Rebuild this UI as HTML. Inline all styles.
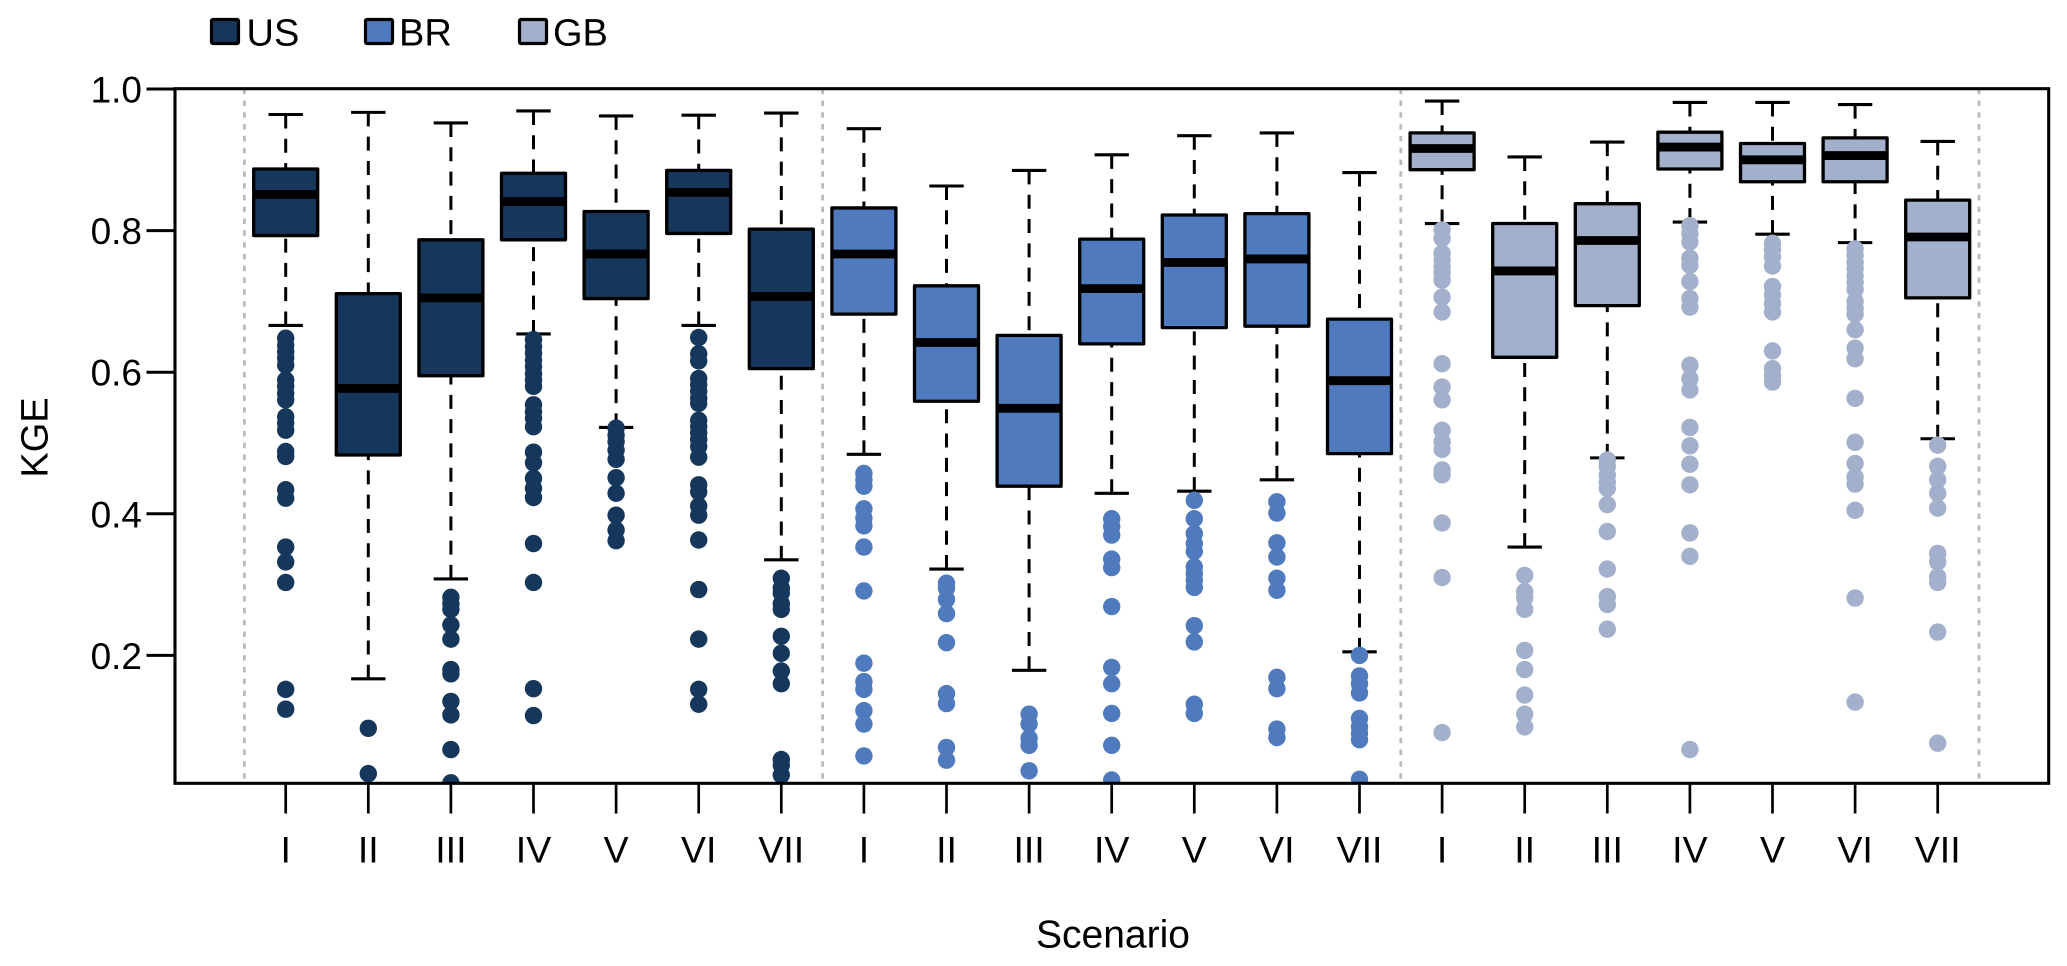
<!DOCTYPE html>
<html lang="en">
<head>
<meta charset="utf-8">
<title>KGE by scenario and country</title>
<style>
html,body{margin:0;padding:0;background:#fff;width:2067px;height:966px;overflow:hidden}
svg{display:block}
text{font-family:"Liberation Sans",Arial,sans-serif;fill:#000}
</style>
</head>
<body>
<svg id="chart" xmlns="http://www.w3.org/2000/svg" width="2067" height="966" viewBox="0 0 2067 966">
  <defs>
    <clipPath id="plot-clip"><rect x="175" y="88.5" width="1873.7" height="694.8"/></clipPath>
  </defs>
  <g>
    <g>
      <rect x="211.5" y="19.5" width="27" height="24" rx="1.5" fill="#15375b" stroke="#000" stroke-width="3.2"/>
      <text x="246.5" y="45.5" font-size="38">US</text>
    </g>
    <g>
      <rect x="365.5" y="19.5" width="27" height="24" rx="1.5" fill="#4f7abd" stroke="#000" stroke-width="3.2"/>
      <text x="399" y="45.5" font-size="38">BR</text>
    </g>
    <g>
      <rect x="519.5" y="19.5" width="27" height="24" rx="1.5" fill="#a2b0cb" stroke="#000" stroke-width="3.2"/>
      <text x="553" y="45.5" font-size="38">GB</text>
    </g>
  </g>
  <text transform="translate(47.5,437.5) rotate(-90)" text-anchor="middle" font-size="38">KGE</text>
  <text x="1113" y="947.5" text-anchor="middle" font-size="39">Scenario</text>
  <g id="layer-separators"></g>
  <g id="layer-boxes"></g>
  <g id="layer-axes"></g>
</svg>
<script>
const scenarios = ['I','II','III','IV','V','VI','VII'];
const yTicks = [0.2,0.4,0.6,0.8,1.0];

const usHigh = [.964,.967,.952,.969,.962,.963,.966];
const usQ3 = [.887,.711,.787,.881,.827,.885,.802];
const usMedian = [.851,.577,.705,.841,.767,.854,.707];
const usQ1 = [.793,.483,.595,.787,.704,.796,.605];
const usLow = [.666,.167,.308,.654,.522,.666,.335];
const usOutliers = [
  [.648,.638,.629,.620,.610,.589,.580,.570,.561,.537,.528,.518,.488,.481,.434,.422,.353,.332,.303,.152,.124],
  [.097,.033],
  [.282,.273,.265,.243,.223,.180,.174,.135,.116,.067,.020],
  [.646,.636,.627,.617,.608,.598,.589,.580,.554,.544,.535,.523,.487,.472,.450,.436,.423,.358,.303,.153,.115],
  [.521,.511,.502,.490,.477,.451,.429,.398,.377,.362],
  [.649,.626,.616,.591,.582,.573,.563,.556,.532,.523,.514,.505,.495,.480,.441,.431,.411,.398,.363,.293,.223,.152,.131],
  [.309,.295,.288,.273,.265,.227,.203,.178,.160,.053,.045,.031]
];

const brHigh = [.944,.863,.885,.907,.934,.938,.882];
const brQ3 = [.832,.722,.652,.788,.822,.824,.675];
const brMedian = [.767,.642,.549,.718,.755,.760,.588];
const brQ1 = [.682,.559,.439,.640,.663,.665,.485];
const brLow = [.484,.322,.179,.429,.432,.448,.205];
const brOutliers = [
  [.457,.448,.439,.407,.394,.383,.353,.291,.189,.163,.152,.122,.103,.058],
  [.302,.295,.279,.259,.218,.146,.132,.070,.052],
  [.117,.103,.083,.073,.037],
  [.393,.382,.370,.336,.324,.269,.183,.160,.118,.073,.024],
  [.419,.393,.372,.358,.347,.325,.315,.306,.296,.242,.219,.131,.118],
  [.417,.401,.359,.339,.309,.292,.169,.153,.096,.084],
  [.200,.171,.160,.147,.111,.099,.090,.081,.025]
];

const gbHigh = [.983,.904,.925,.981,.981,.978,.926];
const gbQ3 = [.938,.810,.838,.939,.923,.931,.843];
const gbMedian = [.916,.743,.786,.918,.900,.906,.791];
const gbQ1 = [.886,.621,.694,.887,.869,.869,.705];
const gbLow = [.810,.353,.479,.812,.795,.783,.506];
const gbOutliers = [
  [.801,.789,.768,.758,.749,.740,.730,.706,.685,.612,.579,.561,.518,.502,.491,.462,.455,.387,.310,.091],
  [.313,.290,.281,.265,.207,.180,.144,.117,.099],
  [.476,.467,.455,.445,.436,.413,.375,.322,.283,.272,.237],
  [.807,.796,.784,.761,.751,.728,.704,.692,.610,.591,.575,.522,.496,.470,.441,.373,.340,.067],
  [.782,.773,.763,.750,.721,.709,.697,.685,.630,.605,.595,.586],
  [.774,.765,.755,.746,.736,.727,.717,.700,.690,.682,.660,.634,.619,.563,.501,.471,.452,.442,.405,.281,.134],
  [.497,.467,.448,.429,.408,.344,.332,.311,.303,.233,.076]
];

const countries = ['us','br','gb'];
const highs = [usHigh,brHigh,gbHigh];
const q3s = [usQ3,brQ3,gbQ3];
const medians = [usMedian,brMedian,gbMedian];
const q1s = [usQ1,brQ1,gbQ1];
const lows = [usLow,brLow,gbLow];
const outliers = [usOutliers,brOutliers,gbOutliers];
const fills = ['#15375b','#4f7abd','#a2b0cb'];

const plot = {left:175,right:2048.7,top:88.7,bottom:783.3};
const SLOT = 82.6, FIRST = 285.7;
function xScale(slot){ return FIRST + SLOT*slot; }
function yScale(v){ return 89 + (1-v)*708; }

const NS = 'http://www.w3.org/2000/svg';
function make(tag, attrs, parent){
  const el = document.createElementNS(NS, tag);
  for (const k in attrs) el.setAttribute(k, attrs[k]);
  parent.appendChild(el);
  return el;
}

const sepLayer = document.getElementById('layer-separators');
const boxLayer = document.getElementById('layer-boxes');
const axisLayer = document.getElementById('layer-axes');

for (let g = 0; g <= countries.length; g++) {
  const sx = xScale(g*scenarios.length - 0.5);
  const sep = make('line',{x1:sx,x2:sx,y1:plot.top,y2:plot.bottom,stroke:'#bbbbbb','stroke-width':2.8,'stroke-dasharray':'5.5 6.3'},sepLayer);
  
  
}

countries.forEach(function(country, c){
  scenarios.forEach(function(label, i){
    const slot = c*scenarios.length + i;
    const x = xScale(slot);
    const group = make('g',{},boxLayer);
    
    

    const whiskerTop = make('line',{x1:x,x2:x,y1:yScale(highs[c][i]),y2:yScale(q3s[c][i]),stroke:'#000','stroke-width':3,'stroke-dasharray':'14 10.3'},group);
    
    
    const whiskerBottom = make('line',{x1:x,x2:x,y1:yScale(lows[c][i]),y2:yScale(q1s[c][i]),stroke:'#000','stroke-width':3,'stroke-dasharray':'14 10.3'},group);
    
    

    const capTop = make('line',{x1:x-17.2,x2:x+17.2,y1:yScale(highs[c][i]),y2:yScale(highs[c][i]),stroke:'#000','stroke-width':3.1},group);
    
    
    const capBottom = make('line',{x1:x-17.2,x2:x+17.2,y1:yScale(lows[c][i]),y2:yScale(lows[c][i]),stroke:'#000','stroke-width':3.1},group);
    
    

    const box = make('rect',{x:x-32,y:yScale(q3s[c][i]),width:64,height:yScale(q1s[c][i])-yScale(q3s[c][i]),fill:fills[c],stroke:'#000','stroke-width':3.3,'stroke-linejoin':'round'},group);
    
    

    const med = make('line',{x1:x-32,x2:x+32,y1:yScale(medians[c][i]),y2:yScale(medians[c][i]),stroke:'#000','stroke-width':8.8},group);
    
    

    const dots = make('g',{'clip-path':'url(#plot-clip)',fill:fills[c]},group);
    
    
    outliers[c][i].forEach(function(v){
      const dot = make('circle',{cx:x,cy:yScale(v),r:8.7},dots);
      
      
    });

    const tick = make('line',{x1:x,x2:x,y1:plot.bottom,y2:813.5,stroke:'#000','stroke-width':2.7},axisLayer);
    
    
    const tl = make('text',{x:x,y:862.5,'text-anchor':'middle','font-size':37.5},axisLayer);
    tl.textContent = label;
    
    
  });
});

yTicks.forEach(function(v){
  const y = yScale(v);
  const t = make('line',{x1:146.5,x2:plot.left,y1:y,y2:y,stroke:'#000','stroke-width':3},axisLayer);
  
  
  const l = make('text',{x:142,y:y+13.5,'text-anchor':'end','font-size':37},axisLayer);
  l.textContent = v.toFixed(1);
  
  
});

const frame = make('rect',{x:plot.left,y:plot.top,width:plot.right-plot.left,height:plot.bottom-plot.top,fill:'none',stroke:'#000','stroke-width':3.1},axisLayer);


</script>
</body>
</html>
